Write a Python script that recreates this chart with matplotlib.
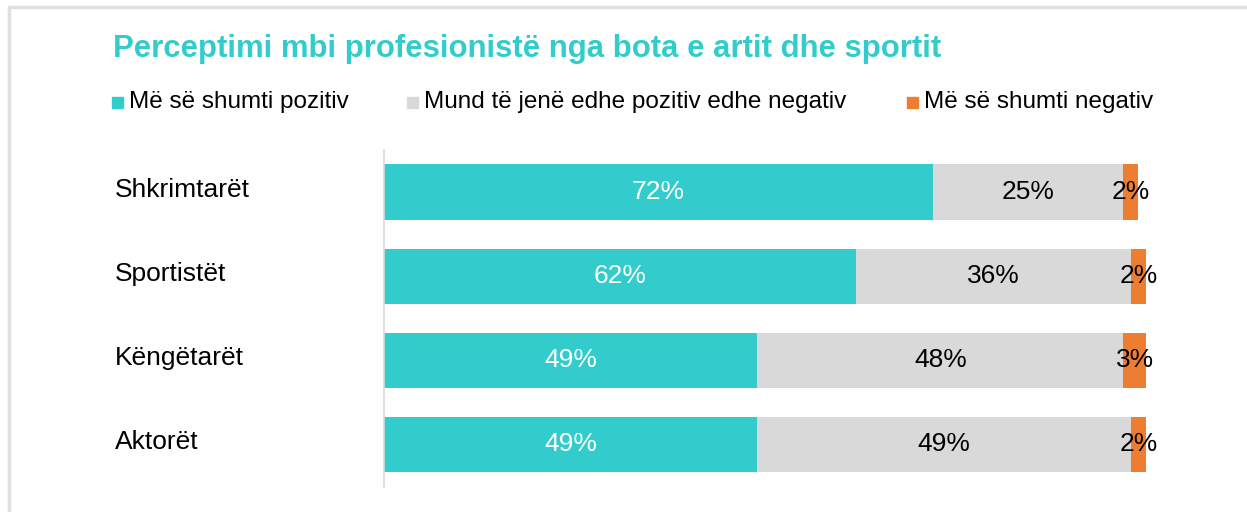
import numpy as np
import matplotlib.pyplot as plt
from matplotlib.patches import Rectangle

plt.rcParams['font.family'] = ['Liberation Sans', 'DejaVu Sans']

categories = ['Shkrimtarët', 'Sportistët', 'Këngëtarët', 'Aktorët']
pozitiv = [72, 62, 49, 49]
te_dyja = [25, 36, 48, 49]
negativ = [2, 2, 3, 2]
series_names = ['Më së shumti pozitiv', 'Mund të jenë edhe pozitiv edhe negativ',
                'Më së shumti negativ']
colors = ['#33CCCC', '#D9D9D9', '#ED7D31']
label_colors = ['white', 'black', 'black']

W, H = 1247, 512
fig = plt.figure(figsize=(W / 100, H / 100), dpi=100)

# frame of the slide
fig.add_artist(Rectangle((9 / W, -0.1), 1.2, 1 - 6.5 / H + 0.1, transform=fig.transFigure,
                         fill=False, edgecolor='#E0E0E0', linewidth=2.5))

# axes: x from 384 to 1146 px = 0..100%
ax = fig.add_axes([384 / W, 1 - 487 / H, (1146 - 384) / W, (487 - 150) / H])
y = np.arange(len(categories))
left = np.zeros(len(categories))
for vals, col, lc in zip([pozitiv, te_dyja, negativ], colors, label_colors):
    ax.barh(y, vals, left=left, height=0.655, color=col, edgecolor='none')
    for yi, l, v in zip(y, left, vals):
        ax.text(l + v / 2, yi, f'{v}%', ha='center', va='center',
                fontsize=19, color=lc)
    left = left + np.array(vals)

ax.set_xlim(0, 100)
ax.set_ylim(3.51, -0.5)
ax.set_xticks([])
ax.set_yticks([])
for s in ['top', 'right', 'bottom']:
    ax.spines[s].set_visible(False)
ax.spines['left'].set_color('#D9D9D9')
ax.spines['left'].set_linewidth(1.2)

# category labels
for yi, c in zip(y, categories):
    ax.annotate(c, xy=(0, yi), xycoords=('axes fraction', 'data'),
                xytext=(115 - 384, 2), textcoords='offset pixels',
                ha='left', va='center', fontsize=19, color='black')

# title
fig.text(113 / W, 1 - 49 / H, 'Perceptimi mbi profesionistë nga bota e artit dhe sportit',
         ha='left', va='center', fontsize=22.4, fontweight='bold', color='#33CCCC')

# legend
leg_x = [112, 407, 907]
for x0, name, col in zip(leg_x, series_names, colors):
    fig.add_artist(Rectangle((x0 / W, 1 - 108 / H), 11 / W, 11 / H,
                             transform=fig.transFigure, color=col))
    fig.text((x0 + 17) / W, 1 - 102 / H, name, ha='left', va='center',
             fontsize=17.5, color='black')

fig.savefig('out.png', dpi=100)
